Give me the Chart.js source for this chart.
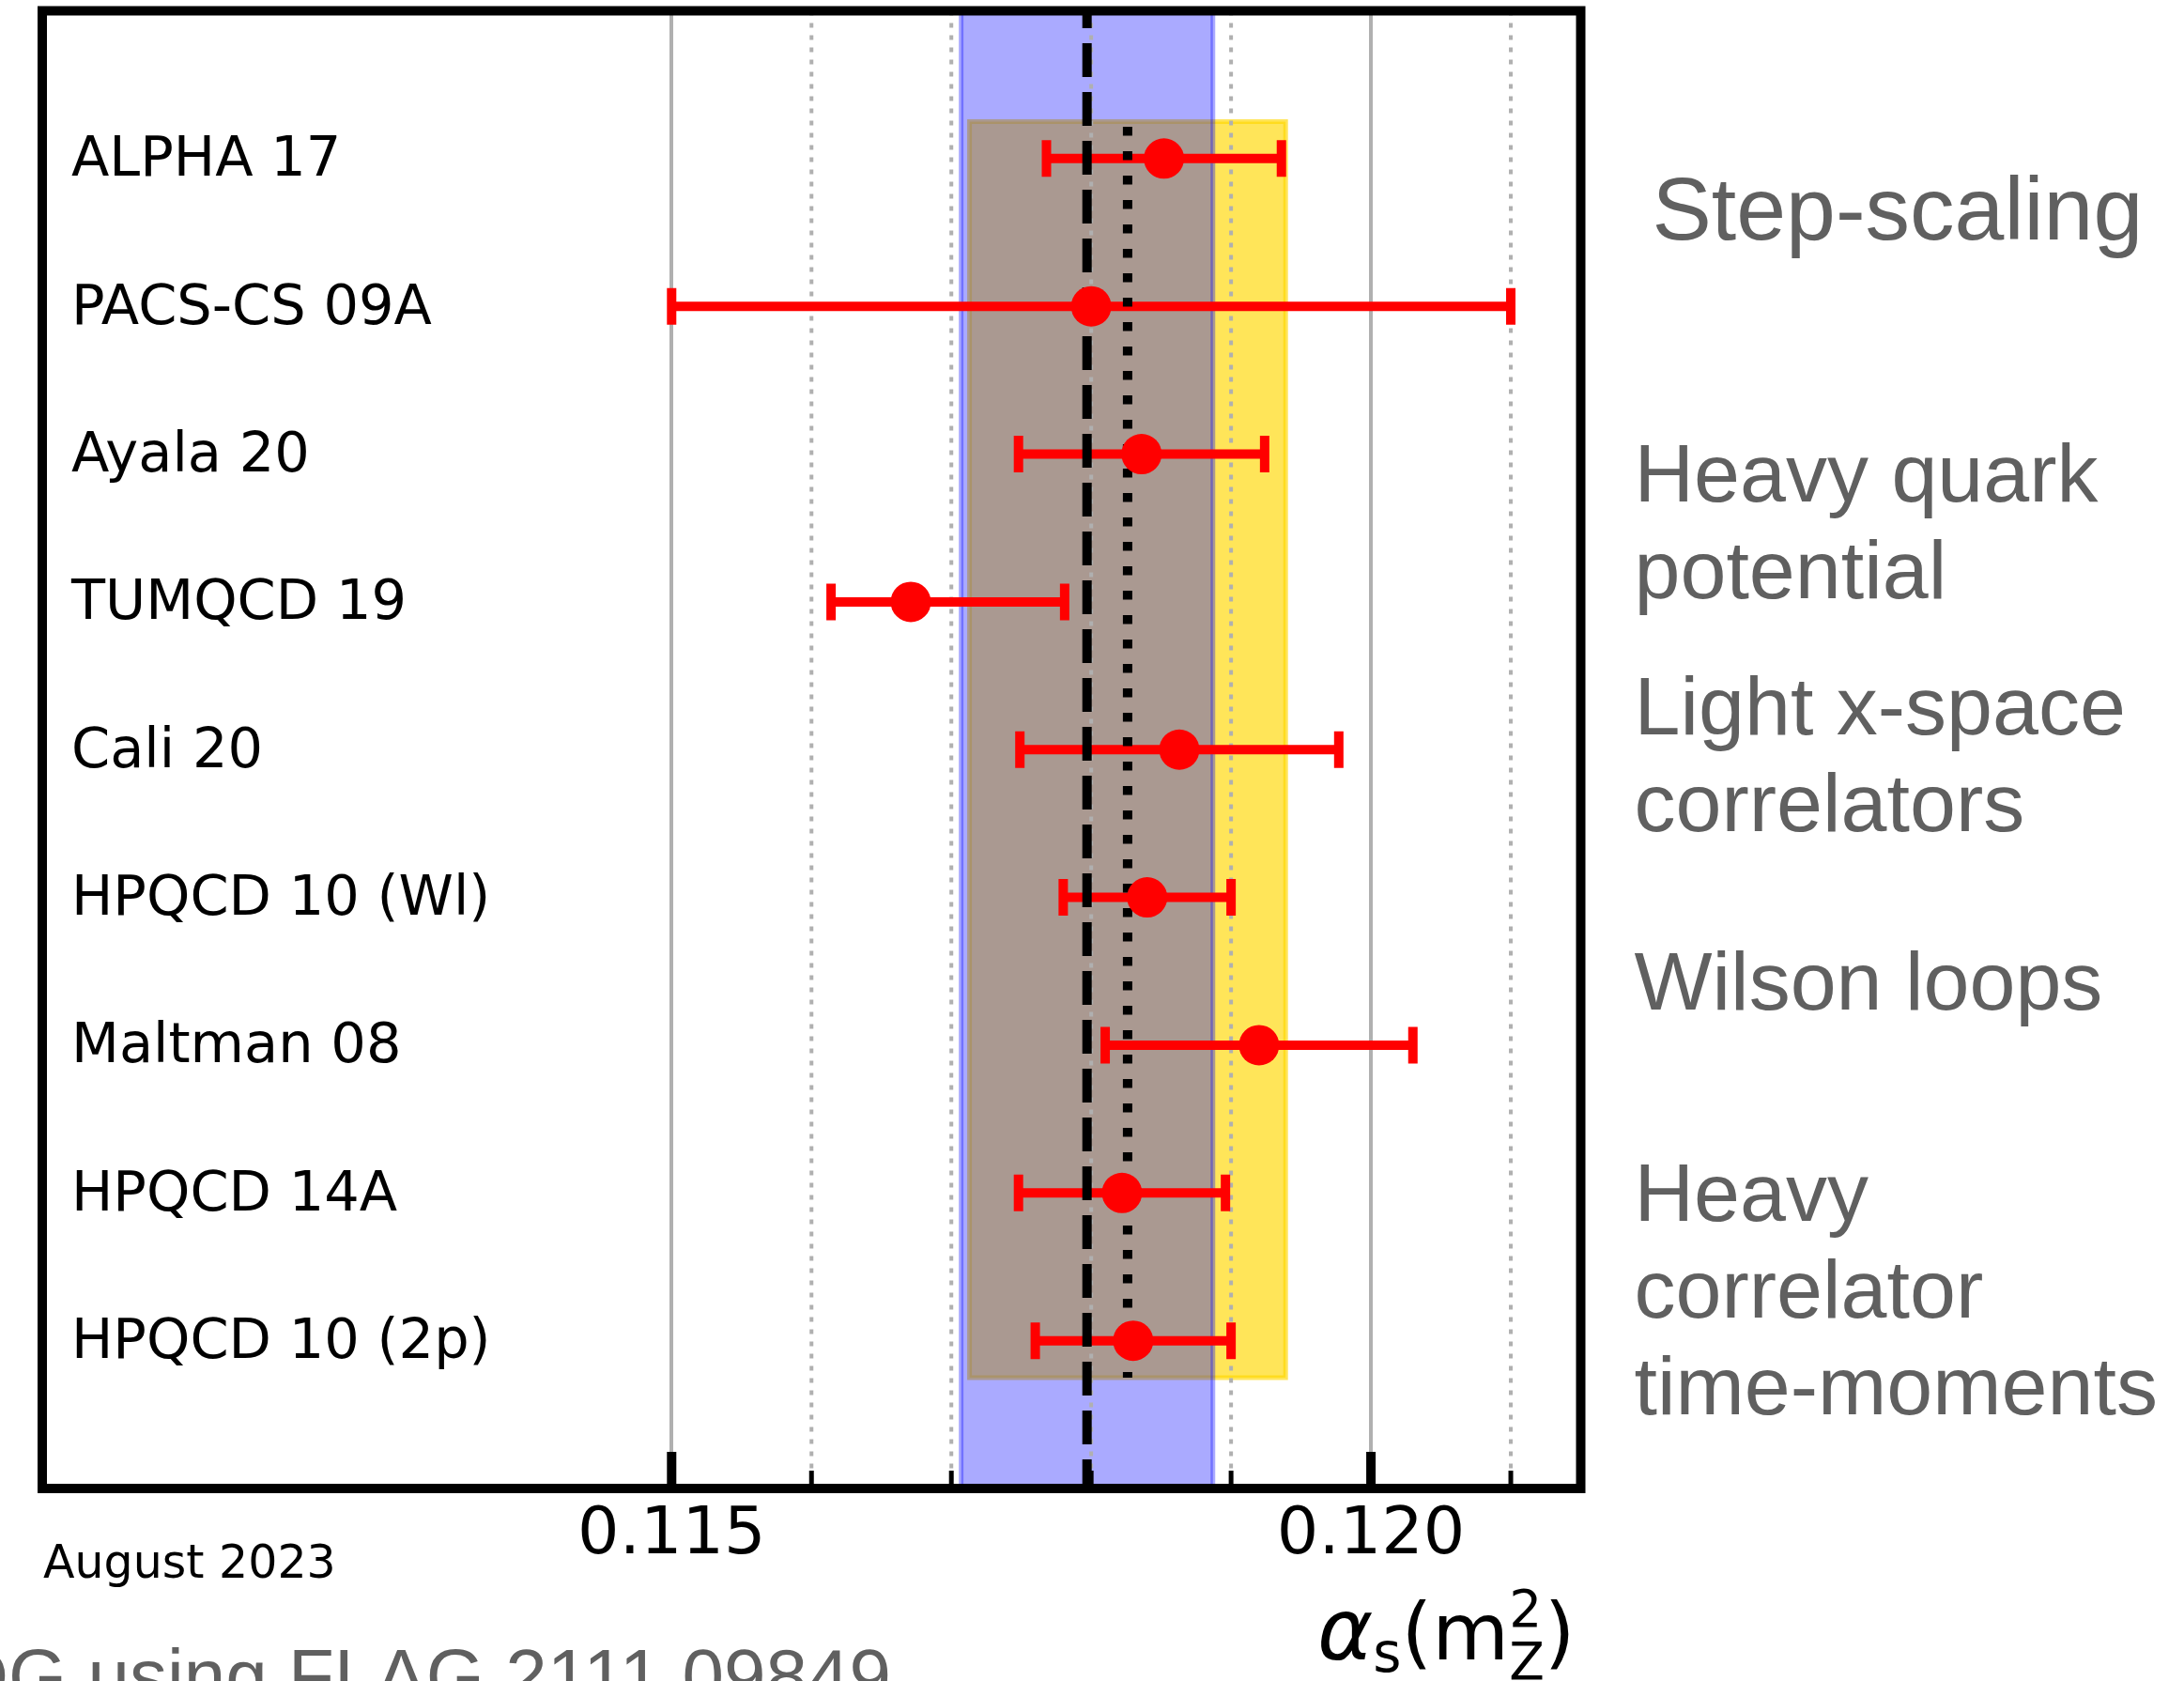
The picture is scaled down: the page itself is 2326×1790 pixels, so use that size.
<!DOCTYPE html>
<html lang="en">
<head>
    <meta charset="UTF-8">
    <title>alpha_s lattice averages</title>
    <style>
        html, body {
            margin: 0;
            padding: 0;
            background: #ffffff;
        }
        .chart-container {
            position: relative;
            width: 2326px;
            height: 1790px;
        }
    </style>
</head>
<body>
<div class="chart-container">
    <canvas id="alphas"></canvas>
</div>

<script src="https://cdn.jsdelivr.net/npm/chart.js@4.4.1/dist/chart.umd.min.js"></script>
<script>
    const rowLabels = ['ALPHA 17', 'PACS-CS 09A', 'Ayala 20', 'TUMQCD 19', 'Cali 20',
        'HPQCD 10 (Wl)', 'Maltman 08', 'HPQCD 14A', 'HPQCD 10 (2p)'];
    const centralValues = [0.11852, 0.1180, 0.11836, 0.11671, 0.11863, 0.1184, 0.1192, 0.11822, 0.1183];
    const errLow = [0.00084, 0.0030, 0.00088, 0.00057, 0.00114, 0.0006, 0.0011, 0.00074, 0.0007];
    const errHigh = [0.00084, 0.0030, 0.00088, 0.00110, 0.00114, 0.0006, 0.0011, 0.00074, 0.0007];

    // world average (blue band, dashed) and lattice average (yellow band, dotted)
    const worldAverage = 0.11797;
    const worldError = 0.0009;
    const latticeAverage = 0.11826;
    const latticeError = 0.00113;

    const xTickValues = [0.115, 0.116, 0.117, 0.118, 0.119, 0.120, 0.121];

    const groupLabels = [
        ['Step-scaling'],
        ['Heavy quark', 'potential'],
        ['Light x-space', 'correlators'],
        ['Wilson loops'],
        ['Heavy', 'correlator', 'time-moments']
    ];
    const groupRows = [1.548, 3.32, 4.897, 6.76, 8.189];

    const grey = '#606060';
    const sans = '"DejaVu Sans"';
    const helv = '"Liberation Sans"';

    function isMajor(v) {
        return Math.round(v * 1000) % 5 === 0;
    }

    const bandsPlugin = {
        id: 'bands',
        beforeDraw(chart) {
            const {ctx, chartArea, scales: {x, y}} = chart;
            ctx.save();
            // lattice band first, world band on top of it
            let l = x.getPixelForValue(latticeAverage - latticeError);
            let r = x.getPixelForValue(latticeAverage + latticeError);
            let t = y.getPixelForValue(0.75);
            let b = y.getPixelForValue(9.25);
            ctx.fillStyle = 'rgba(255, 215, 0, 0.65)';
            ctx.fillRect(l, t, r - l, b - t);
            ctx.strokeStyle = 'rgba(255, 215, 0, 0.65)';
            ctx.lineWidth = 5;
            ctx.strokeRect(l, t, r - l, b - t);

            l = x.getPixelForValue(worldAverage - worldError);
            r = x.getPixelForValue(worldAverage + worldError);
            ctx.fillStyle = 'rgba(0, 0, 255, 0.333)';
            ctx.fillRect(l, chartArea.top, r - l, chartArea.bottom - chartArea.top);
            ctx.strokeStyle = 'rgba(0, 0, 255, 0.333)';
            ctx.beginPath();
            ctx.moveTo(l, chartArea.top);
            ctx.lineTo(l, chartArea.bottom);
            ctx.moveTo(r, chartArea.top);
            ctx.lineTo(r, chartArea.bottom);
            ctx.stroke();
            ctx.restore();
        },
        beforeDatasetsDraw(chart) {
            const {ctx, chartArea, scales: {x, y}} = chart;
            ctx.save();
            // minor dotted grid
            ctx.strokeStyle = '#b0b0b0';
            ctx.lineWidth = 4;
            ctx.setLineDash([5, 8]);
            for (const tick of x.ticks) {
                if (isMajor(tick.value)) continue;
                const px = x.getPixelForValue(tick.value);
                ctx.beginPath();
                ctx.moveTo(px, chartArea.top);
                ctx.lineTo(px, chartArea.bottom);
                ctx.stroke();
            }
            ctx.setLineDash([]);

            // row labels inside the frame
            ctx.fillStyle = '#000000';
            ctx.font = '59px ' + sans;
            ctx.textAlign = 'left';
            ctx.textBaseline = 'alphabetic';
            rowLabels.forEach((label, i) => {
                ctx.fillText(label, chartArea.left + 31, y.getPixelForValue(i + 1) + 18.5);
            });

            // error bars with caps
            ctx.strokeStyle = '#ff0000';
            ctx.lineWidth = 10;
            for (let i = 0; i < centralValues.length; i++) {
                const py = y.getPixelForValue(i + 1);
                const lo = x.getPixelForValue(centralValues[i] - errLow[i]);
                const hi = x.getPixelForValue(centralValues[i] + errHigh[i]);
                ctx.beginPath();
                ctx.moveTo(lo, py);
                ctx.lineTo(hi, py);
                ctx.moveTo(lo, py - 19.5);
                ctx.lineTo(lo, py + 19.5);
                ctx.moveTo(hi, py - 19.5);
                ctx.lineTo(hi, py + 19.5);
                ctx.stroke();
            }
            ctx.restore();
        },
        afterDraw(chart) {
            const {ctx, chartArea, scales: {x, y}} = chart;
            ctx.save();
            // frame
            ctx.strokeStyle = '#000000';
            ctx.lineWidth = 10;
            ctx.strokeRect(chartArea.left, chartArea.top,
                chartArea.right - chartArea.left, chartArea.bottom - chartArea.top);

            // inward ticks
            for (const tick of x.ticks) {
                const px = x.getPixelForValue(tick.value);
                const major = isMajor(tick.value);
                ctx.lineWidth = major ? 10 : 5;
                ctx.beginPath();
                ctx.moveTo(px, chartArea.bottom);
                ctx.lineTo(px, chartArea.bottom - (major ? 39 : 19));
                ctx.stroke();
            }

            // method groups on the right
            ctx.fillStyle = grey;
            ctx.textAlign = 'left';
            ctx.textBaseline = 'alphabetic';
            groupLabels.forEach((lines, g) => {
                const size = g === 0 ? 95 : 88;
                const left = chartArea.right + (g === 0 ? 76 : 57);
                ctx.font = size + 'px ' + helv;
                const base = y.getPixelForValue(groupRows[g]);
                lines.forEach((line, k) => {
                    ctx.fillText(line, left, base + k * 103);
                });
            });

            // date stamp
            ctx.fillStyle = '#000000';
            ctx.font = '49px ' + sans;
            ctx.fillText('August 2023', 46, 1680);

            // credit line, cut at the bottom edge
            ctx.fillStyle = grey;
            ctx.font = '80px ' + helv;
            ctx.textAlign = 'right';
            ctx.fillText('PDG using FLAG 2111.09849', 949, 1812);

            // axis title alpha_s(m_Z^2)
            ctx.fillStyle = '#000000';
            ctx.textAlign = 'left';
            let cx = 1403;
            ctx.font = 'italic 90px ' + sans;
            ctx.fillText('\u03b1', cx, 1767);
            cx += ctx.measureText('\u03b1').width;
            ctx.font = '58px ' + sans;
            ctx.fillText('s', cx, 1780);
            cx += ctx.measureText('s').width;
            ctx.font = '84px ' + sans;
            ctx.fillText('(m', cx, 1767);
            cx += ctx.measureText('(m').width;
            ctx.font = '55px ' + sans;
            ctx.fillText('2', cx, 1732);
            ctx.fillText('Z', cx, 1788);
            cx += ctx.measureText('Z').width;
            ctx.font = '84px ' + sans;
            ctx.fillText(')', cx, 1767);
            ctx.restore();
        }
    };

    function main() {
        const ctx = document.getElementById('alphas').getContext('2d');
        new Chart(ctx, {
            type: 'scatter',
            data: {
                datasets: [{
                    label: 'results',
                    data: centralValues.map((v, i) => ({x: v, y: i + 1})),
                    backgroundColor: '#ff0000',
                    borderWidth: 0,
                    pointRadius: 21.5,
                    pointHoverRadius: 21.5
                },
                {
                    label: 'lattice average',
                    data: [{x: latticeAverage, y: 0.75}, {x: latticeAverage, y: 9.25}],
                    showLine: true,
                    pointRadius: 0,
                    borderColor: '#000000',
                    borderWidth: 10,
                    borderDash: [9.5, 16.5],
                    borderDashOffset: 20.5
                },
                {
                    label: 'world average',
                    data: [{x: worldAverage, y: 0}, {x: worldAverage, y: 10}],
                    showLine: true,
                    pointRadius: 0,
                    borderColor: '#000000',
                    borderWidth: 10,
                    borderDash: [36, 16],
                    borderDashOffset: 17.6
                }]
            },
            options: {
                responsive: true,
                maintainAspectRatio: false,
                devicePixelRatio: 1,
                animation: false,
                layout: {
                    autoPadding: false,
                    padding: {left: 45, right: 642.5, top: 11.5, bottom: 0}
                },
                plugins: {
                    legend: {display: false},
                    tooltip: {enabled: false}
                },
                scales: {
                    x: {
                        type: 'linear',
                        min: 0.1105,
                        max: 0.1215,
                        afterBuildTicks: (scale) => {
                            scale.ticks = xTickValues.map((v) => ({value: v}));
                        },
                        afterFit: (scale) => {
                            scale.height = 205;
                            scale.paddingLeft = 0;
                            scale.paddingRight = 0;
                        },
                        border: {display: false},
                        grid: {
                            drawTicks: false,
                            lineWidth: 4,
                            color: (c) => (c.tick && isMajor(c.tick.value)) ? '#b0b0b0' : 'rgba(0,0,0,0)'
                        },
                        ticks: {
                            autoSkip: false,
                            maxRotation: 0,
                            padding: 9,
                            color: '#000000',
                            font: {family: sans, size: 70},
                            callback: (v) => isMajor(v) ? v.toFixed(3) : ''
                        }
                    },
                    y: {
                        type: 'linear',
                        display: false,
                        min: 0,
                        max: 10,
                        reverse: true
                    }
                }
            },
            plugins: [bandsPlugin]
        });
    }

    main();
</script>
</body>
</html>
